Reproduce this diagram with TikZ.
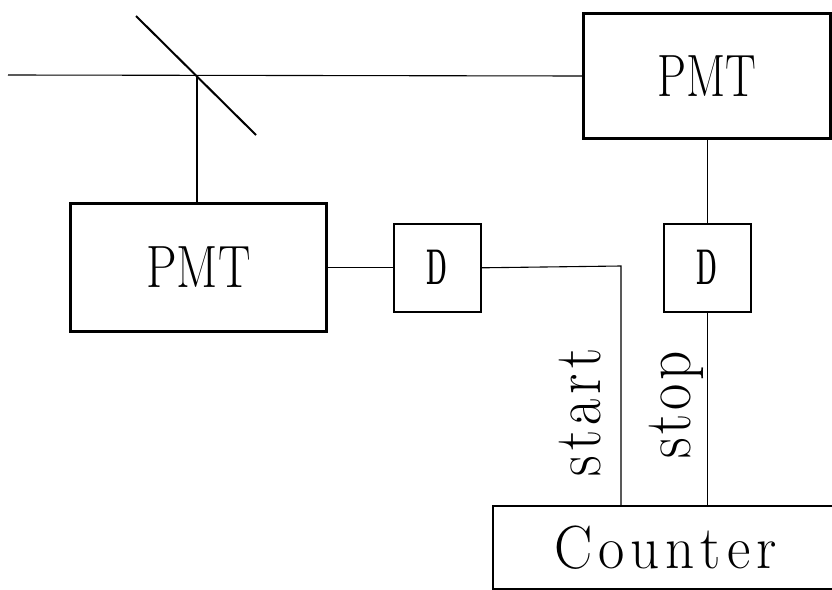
\documentclass[tikz,border=0pt]{standalone}
\tikzset{
 thickbox/.style={draw,line width=3pt,inner sep=0pt,font=\Huge},
 smallbox/.style={draw,line width=1.6pt,inner sep=0pt,font=\LARGE},
 wire/.style={draw,line width=1.1pt},
 lab/.style={font=\Huge,inner sep=0pt,anchor=base}
}
\begin{document}
\begin{tikzpicture}[x=1pt,y=-1pt]
\useasboundingbox (0,0) rectangle (832,589);
\fill[white] (0,0) rectangle (832,589);
\node[thickbox,minimum width=247pt,minimum height=125pt,anchor=north west] (pa) at (582,12) {\scalebox{1.85}[2.4]{PMT}};
\node[thickbox,minimum width=256pt,minimum height=128pt,anchor=north west] (pb) at (69,202) {\scalebox{1.95}[2.4]{PMT}};
\node[smallbox,minimum width=87pt,minimum height=88pt,anchor=north west] (da) at (393,223) {\scalebox{1.4}[2.9]{\bfseries D}};
\node[smallbox,minimum width=87pt,minimum height=88pt,anchor=north west] (db) at (663,223) {\scalebox{1.4}[2.9]{\bfseries D}};
\node[smallbox,minimum width=345pt,minimum height=83pt,anchor=north west] (c) at (492,505) {\scalebox{2.3}[2.45]{\Huge C\kern2.6pt o\kern2.6pt u\kern2.6pt n\kern2.6pt t\kern2.6pt e\kern2.6pt r}};
\coordinate (s) at (8,75);
\coordinate (m) at (197,75);
\coordinate (m1) at (136,16);
\coordinate (m2) at (256,135);
\coordinate (k) at (621,266);
\draw[wire] (s) -- (pa.west);
\draw[line width=2pt] (m1) -- (m2);
\draw[wire] (m) -- (pb.north -| m);
\draw[wire] (pb.east |- da.west) -- (da.west);
\draw[wire] (da.east) -- (k) -- (k |- c.north);
\draw[wire] (pa.south -| db.north) -- (db.north);
\draw[wire] (db.south) -- (c.north -| db.south);
\node[lab,rotate=90] (st) at (600,412.5) {\scalebox{2.3}[2.7]{s\kern2.2pt t\kern2.2pt a\kern2.2pt r\kern2.2pt t}};
\node[lab,rotate=90] (sp) at (690,405) {\scalebox{2.3}[2.7]{s\kern1.5pt t\kern1.5pt o\kern1.5pt p}};
\end{tikzpicture}
\end{document}
